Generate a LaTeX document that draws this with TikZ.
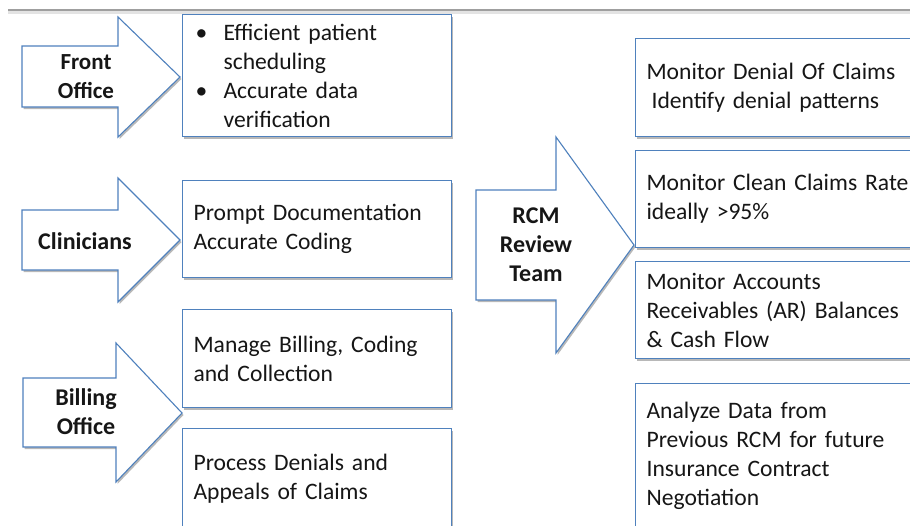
\documentclass[tikz,border=0pt]{standalone}
\usepackage{fontspec}
\setmainfont{Carlito}
\usetikzlibrary{shadows}
\definecolor{edgeblue}{RGB}{79,129,189}
\definecolor{ink}{RGB}{22,22,22}
\begin{document}
\begin{tikzpicture}[x=1pt,y=-1pt,
  softshadow/.style={drop shadow={shadow xshift=1.5pt,shadow yshift=-2pt,fill=black,opacity=0.28}},
  infobox/.style={rectangle,draw=edgeblue,line width=1.1pt,fill=white,softshadow,
    anchor=north west,inner xsep=11pt,inner ysep=0pt,align=left,text=ink,
    font=\fontsize{23.6}{29}\selectfont},
  leftbox/.style={infobox,minimum width=269pt,text width=247pt},
  rightbox/.style={infobox,minimum width=300pt,text width=278pt},
  blockarrow/.style={draw=edgeblue,line width=1.1pt,fill=white,softshadow,line join=miter},
  arrowlabel/.style={align=center,text=ink,inner sep=0pt,
    font=\bfseries\fontsize{24}{29}\selectfont}]
\clip (0,0) rectangle (910,525);
\fill[white] (0,0) rectangle (910,525);

% header rule
\draw[line width=5pt,color=gray!22] (8,11.5) -- (910,11.5);
\draw[line width=2.4pt,color=gray!75] (8,10) -- (910,10);

% block arrows
\draw[blockarrow] (22,46) -- (118,46) -- (118,17) -- (180,77) -- (118,137) -- (118,107) -- (22,107) -- cycle;
\node[arrowlabel,font=\bfseries\fontsize{23}{29}\selectfont] (front) at (86,77) {Front\\Office};

\draw[blockarrow] (22,210) -- (118,210) -- (118,178) -- (180,240) -- (118,302) -- (118,270) -- (22,270) -- cycle;
\node[arrowlabel] (clin) at (85,241) {Clinicians};

\draw[blockarrow] (23,378) -- (116,378) -- (116,343) -- (182,413) -- (116,482) -- (116,447) -- (23,447) -- cycle;
\node[arrowlabel] (billing) at (86,412) {Billing\\Office};

\draw[blockarrow] (476,190) -- (556,190) -- (556,137) -- (634,245) -- (556,353) -- (556,300) -- (476,300) -- cycle;
\node[arrowlabel] (rcm) at (536,245) {RCM\\Review\\Team};

% left column of task boxes
\node[leftbox,minimum height=122pt] (fobox) at (182,14)
  {\makebox[30pt][l]{\hspace{2pt}\textbullet}Efficient patient\\
   \hspace*{30pt}scheduling\\
   \makebox[30pt][l]{\hspace{2pt}\textbullet}Accurate data\\
   \hspace*{30pt}verification};
\node[leftbox,minimum height=97pt] (clbox) at (182,180)
  {Prompt Documentation\\Accurate Coding};
\node[leftbox,minimum height=98pt] (bobox1) at (182,309)
  {Manage Billing, Coding\\and Collection};
\node[leftbox,minimum height=100pt] (bobox2) at (182,428)
  {Process Denials and\\Appeals of Claims};

% right column of review boxes
\node[rightbox,minimum height=98pt] (rv1) at (635,38)
  {Monitor Denial Of Claims\\\hspace*{5pt}Identify denial patterns};
\node[rightbox,minimum height=97pt] (rv2) at (635,150)
  {Monitor Clean Claims Rate\\ideally >95\%};
\node[rightbox,minimum height=97pt] (rv3) at (635,261)
  {Monitor Accounts\\Receivables (AR) Balances\\\& Cash Flow};
\node[rightbox,minimum height=145pt] (rv4) at (635,383)
  {Analyze Data from\\Previous RCM for future\\Insurance Contract\\Negotiation};
\end{tikzpicture}
\end{document}
